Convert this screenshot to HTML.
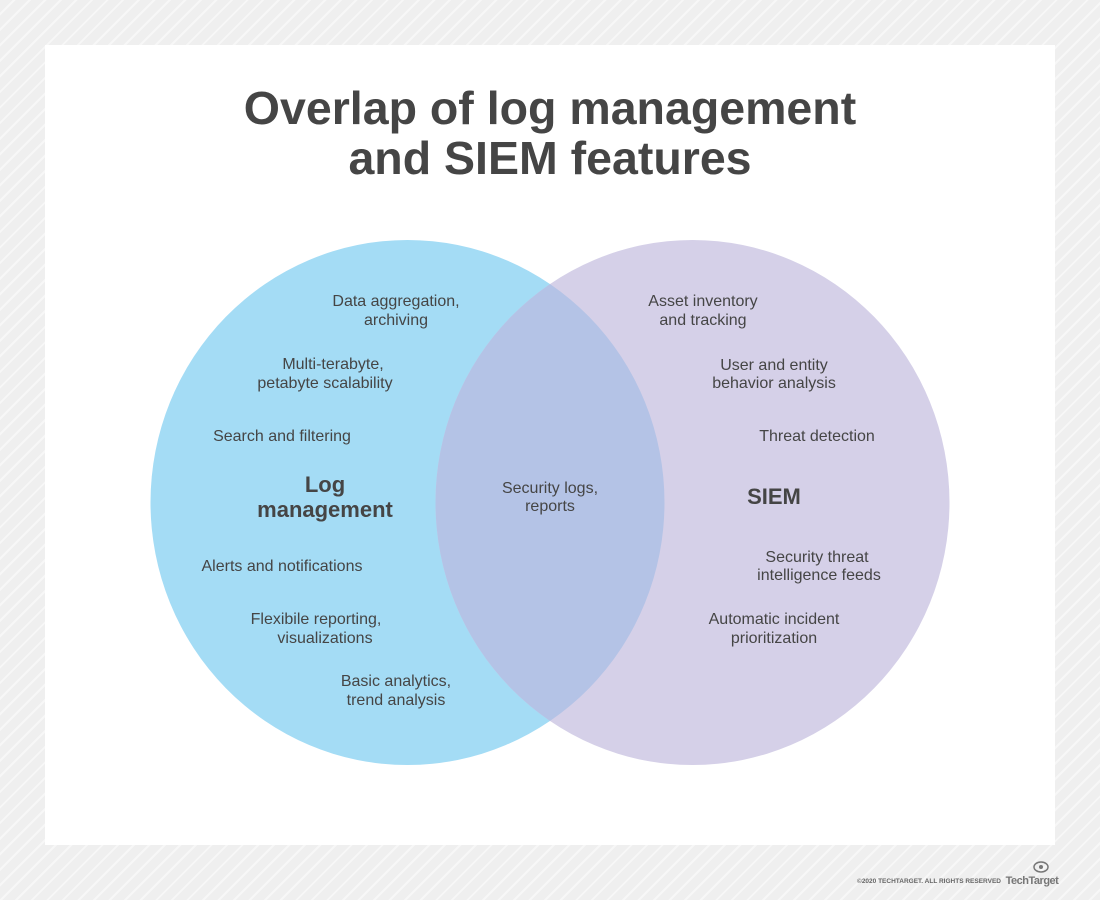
<!DOCTYPE html>
<html><head><meta charset="utf-8"><style>
html,body{margin:0;padding:0}
body{width:1100px;height:900px;position:relative;overflow:hidden;background:#efefef;
background-image:repeating-linear-gradient(135deg,#efefef 0 9px,#f7f7f7 9px 11px);font-family:"Liberation Sans",sans-serif;color:#454545}
.card{position:absolute;left:45px;top:45px;width:1010px;height:800px;background:#fff}
svg{position:absolute;left:0;top:0}
</style></head><body>
<div class="card"></div>
<svg width="1100" height="900" font-family="Liberation Sans, sans-serif" fill="#454545">
<text x="550" y="124" text-anchor="middle" font-size="46.5" font-weight="bold">Overlap of log management</text>
<text x="550" y="174" text-anchor="middle" font-size="46.5" font-weight="bold">and SIEM features</text>
<ellipse cx="407.5" cy="502.5" rx="257" ry="262.5" fill="#a4dcf5"/>
<ellipse cx="692.5" cy="502.5" rx="257" ry="262.5" fill="#d5d0e8"/>
<clipPath id="c"><ellipse cx="407.5" cy="502.5" rx="257" ry="262.5"/></clipPath>
<ellipse cx="692.5" cy="502.5" rx="257" ry="262.5" fill="#b4c3e6" clip-path="url(#c)"/>
<g font-size="16" text-anchor="middle" fill="#454545">
<text x="396" y="306">Data aggregation,</text><text x="396" y="325">archiving</text>
<text x="333" y="369">Multi-terabyte,</text><text x="325" y="388">petabyte scalability</text>
<text x="282" y="441">Search and filtering</text>
<text x="282" y="571">Alerts and notifications</text>
<text x="316" y="624">Flexibile reporting,</text><text x="325" y="643">visualizations</text>
<text x="396" y="686">Basic analytics,</text><text x="396" y="705">trend analysis</text>
<text x="550" y="493">Security logs,</text><text x="550" y="511">reports</text>
<text x="703" y="306">Asset inventory</text><text x="703" y="325">and tracking</text>
<text x="774" y="370">User and entity</text><text x="774" y="388">behavior analysis</text>
<text x="817" y="441">Threat detection</text>
<text x="817" y="562">Security threat</text><text x="819" y="580">intelligence feeds</text>
<text x="774" y="624">Automatic incident</text><text x="774" y="643">prioritization</text>
</g>
<g font-size="22" font-weight="bold" text-anchor="middle">
<text x="325" y="492">Log</text><text x="325" y="517">management</text>
<text x="774" y="504">SIEM</text>
</g>
<text x="1001" y="883" font-size="6.5" font-weight="bold" text-anchor="end" fill="#666">©2020 TECHTARGET. ALL RIGHTS RESERVED</text>
<text x="1032" y="884" font-size="11" font-weight="bold" text-anchor="middle" fill="#777" letter-spacing="-0.5">TechTarget</text>
<ellipse cx="1041" cy="867" rx="7" ry="5" fill="none" stroke="#777" stroke-width="1.5"/>
<circle cx="1041" cy="867" r="2" fill="#777"/>
</svg>
</body></html>
